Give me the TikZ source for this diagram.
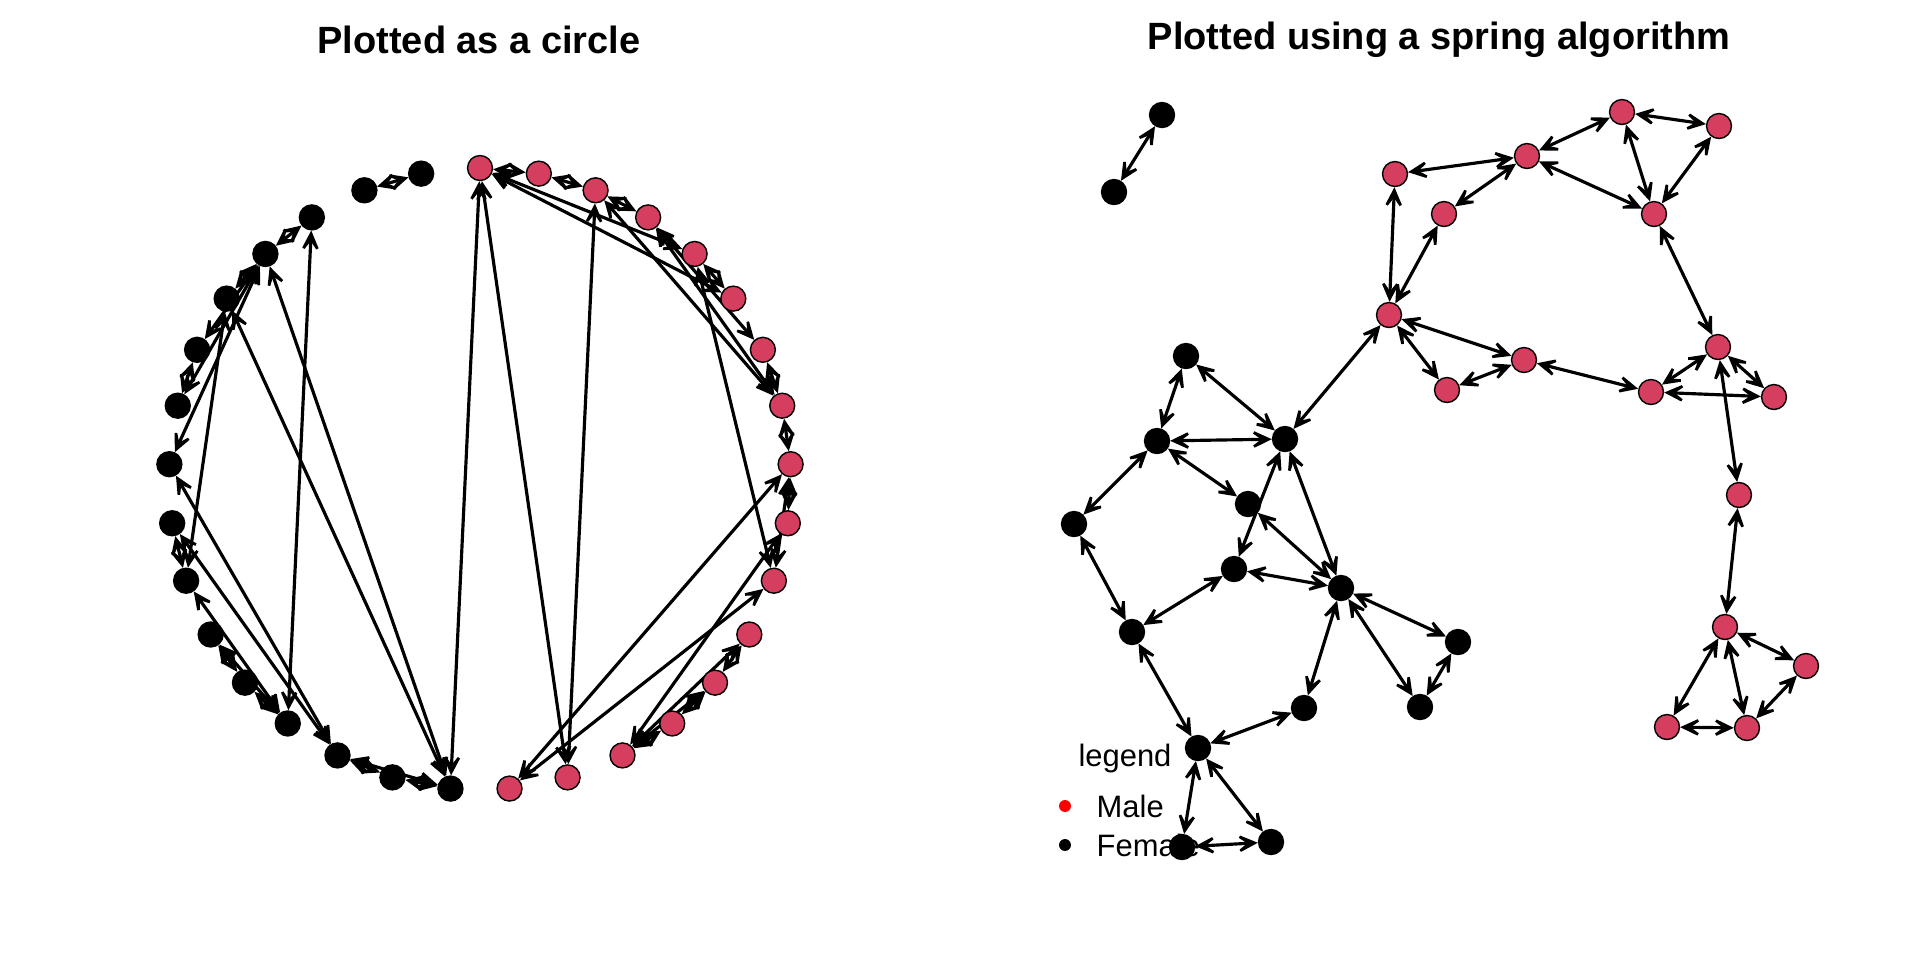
\documentclass[tikz,border=0pt]{standalone}
\usepackage{fontspec}
\setmainfont{Liberation Sans}
\usepackage{xcolor}
\usetikzlibrary{arrows.meta, backgrounds}
\definecolor{malered}{RGB}{213, 62, 94}
\definecolor{legendred}{RGB}{255, 0, 0}
\tikzstyle{male} = [circle, draw=black, fill=malered, line width=0.4pt, minimum size=7.1pt, inner sep=0pt]
\tikzstyle{female} = [circle, draw=black, fill=black, line width=0.4pt, minimum size=7.1pt, inner sep=0pt]
\tikzstyle{link} = [{Stealth[length=8.5pt, width=8pt, inset=5.5pt]}-{Stealth[length=8.5pt, width=8pt, inset=5.5pt]}, line width=0.9pt]
\tikzstyle{plottitle} = [font=\fontsize{10.8}{13}\selectfont\bfseries]
\tikzstyle{legendtext} = [font=\fontsize{8.8}{10}\selectfont, inner sep=0pt]

\begin{document}
\begin{tikzpicture}[x=0.01cm, y=-0.01cm]
    \useasboundingbox (0,0) rectangle (1920,960);

    % Titles
    \node[plottitle] (circtitle) at (479,40) {Plotted as a circle};
    \node[plottitle] (springtitle) at (1439,40) {Plotted using a spring algorithm};

    % Legend
    \node[legendtext] (legtitle) at (1125,758) {legend};
    \node[circle, fill=legendred, inner sep=0pt, minimum size=3.4pt] (maledot) at (1065,806) {};
    \node[legendtext, anchor=west] (maletext) at (1096,806) {Male};
    \node[circle, fill=black, inner sep=0pt, minimum size=3.4pt] (femaledot) at (1065,845) {};
    \node[legendtext, anchor=west] (femaletext) at (1096,845) {Female};

    % Circle layout: males first, then females
    \foreach \i in {0,...,16}
        \node[male] (c\i) at ({480+311*cos(90-\i*360/33)}, {479-311*sin(90-\i*360/33)}) {};
    \foreach \i in {17,...,32}
        \node[female] (c\i) at ({480+311*cos(90-\i*360/33)}, {479-311*sin(90-\i*360/33)}) {};

    % Spring layout: males
    \node[male] (m1) at (1395,174) {};
    \node[male] (m2) at (1444,214) {};
    \node[male] (m3) at (1389,315) {};
    \node[male] (m4) at (1447,390) {};
    \node[male] (m5) at (1622,112) {};
    \node[male] (m6) at (1719,126) {};
    \node[male] (m7) at (1527,156) {};
    \node[male] (m8) at (1654,214) {};
    \node[male] (m9) at (1524,360) {};
    \node[male] (m10) at (1718,347) {};
    \node[male] (m11) at (1651,392) {};
    \node[male] (m12) at (1774,397) {};
    \node[male] (m13) at (1739,495) {};
    \node[male] (m14) at (1725,627) {};
    \node[male] (m15) at (1806,666) {};
    \node[male] (m16) at (1667,727) {};
    \node[male] (m17) at (1747,728) {};

    % Spring layout: females
    \node[female] (fa) at (1162,115) {};
    \node[female] (fb) at (1114,192) {};
    \node[female] (f1) at (1186,356) {};
    \node[female] (f2) at (1157,441) {};
    \node[female] (f3) at (1285,439) {};
    \node[female] (f4) at (1074,524) {};
    \node[female] (f5) at (1248,504) {};
    \node[female] (f6) at (1234,569) {};
    \node[female] (f7) at (1341,588) {};
    \node[female] (f8) at (1132,632) {};
    \node[female] (f9) at (1458,642) {};
    \node[female] (f10) at (1304,708) {};
    \node[female] (f11) at (1420,707) {};
    \node[female] (f12) at (1198,748) {};
    \node[female] (f13) at (1182,847) {};
    \node[female] (f14) at (1271,842) {};

    \begin{scope}[on background layer]
        % Circle edges
        \foreach \a/\b in {1/2, 1/0, 15/0, 15/2, 2/3, 3/6, 3/7, 6/7, 2/7, 7/8, 0/4, 0/5, 5/4, 4/10, 10/8, 10/16, 8/16, 8/9, 9/14, 14/11, 14/13, 14/12, 12/13, 12/11, 0/17,
                           31/32, 18/19, 18/17, 19/17, 19/24, 19/25, 17/28, 17/29, 25/29, 28/29, 24/23, 23/28, 29/27, 29/30, 29/26, 27/26, 23/20, 20/30, 20/21, 20/22, 21/22}
            \draw[link] (c\a) -- (c\b);
        % Spring edges
        \foreach \a/\b in {m1/m7, m1/m3, m2/m3, m2/m7, m7/m5, m5/m6, m5/m8, m6/m8, m7/m8, m8/m10, m3/m9, m3/m4, m4/m9, m9/m11, m11/m10, m11/m12, m10/m12, m10/m13, m13/m14, m14/m15, m14/m16, m14/m17, m17/m16, m17/m15, m3/f3,
                           fa/fb, f1/f2, f1/f3, f2/f3, f2/f4, f2/f5, f3/f6, f3/f7, f5/f7, f6/f7, f4/f8, f8/f6, f7/f9, f7/f10, f7/f11, f9/f11, f8/f12, f12/f10, f12/f13, f12/f14, f13/f14}
            \draw[link] (\a) -- (\b);
    \end{scope}
\end{tikzpicture}
\end{document}
